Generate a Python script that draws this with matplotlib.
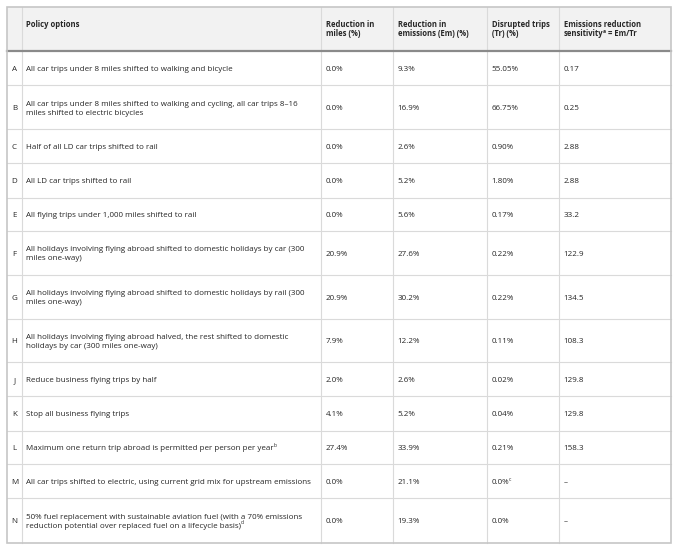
import re
import matplotlib
matplotlib.use('Agg')
import matplotlib.pyplot as plt
from matplotlib.patches import Rectangle

# ---------------- data ----------------
letters = ['A', 'B', 'C', 'D', 'E', 'F', 'G', 'H', 'J', 'K', 'L', 'M', 'N']
policies = [
    "All car trips under 8 miles shifted to walking and bicycle",
    "All car trips under 8 miles shifted to walking and cycling, all car trips 8–16\nmiles shifted to electric bicycles",
    "Half of all LD car trips shifted to rail",
    "All LD car trips shifted to rail",
    "All flying trips under 1,000 miles shifted to rail",
    "All holidays involving flying abroad shifted to domestic holidays by car (300\nmiles one-way)",
    "All holidays involving flying abroad shifted to domestic holidays by rail (300\nmiles one-way)",
    "All holidays involving flying abroad halved, the rest shifted to domestic\nholidays by car (300 miles one-way)",
    "Reduce business flying trips by half",
    "Stop all business flying trips",
    "Maximum one return trip abroad is permitted per person per year^b",
    "All car trips shifted to electric, using current grid mix for upstream emissions",
    "50% fuel replacement with sustainable aviation fuel (with a 70% emissions\nreduction potential over replaced fuel on a lifecycle basis)^d",
]
miles = ["0.0%", "0.0%", "0.0%", "0.0%", "0.0%", "20.9%", "20.9%", "7.9%",
         "2.0%", "4.1%", "27.4%", "0.0%", "0.0%"]
emissions = ["9.3%", "16.9%", "2.6%", "5.2%", "5.6%", "27.6%", "30.2%", "12.2%",
             "2.6%", "5.2%", "33.9%", "21.1%", "19.3%"]
disrupted = ["55.05%", "66.75%", "0.90%", "1.80%", "0.17%", "0.22%", "0.22%",
             "0.11%", "0.02%", "0.04%", "0.21%", "0.0%^c", "0.0%"]
sensitivity = ["0.17", "0.25", "2.88", "2.88", "33.2", "122.9", "134.5", "108.3",
               "129.8", "129.8", "158.3", "–", "–"]
headers = ["", "Policy options", "Reduction in\nmiles (%)",
           "Reduction in\nemissions (Em) (%)", "Disrupted trips\n(Tr) (%)",
           "Emissions reduction\nsensitivity^a = Em/Tr"]

# ---------------- layout (pixels) ----------------
W, H = 680, 548
col_edges = [7, 22, 321, 393, 487, 559, 671]
row_edges = [7, 50.5, 85, 129.3, 163.3, 197.7, 231, 275, 318.7, 362.3,
             396.3, 430.5, 464, 498, 542.5]
pad = 4.5
line_gap = 9.0
FAM = ['Open Sans', 'DejaVu Sans']
TXT = '#262626'

fig = plt.figure(figsize=(W / 100, H / 100), dpi=100)
ax = fig.add_axes([0, 0, 1, 1])
ax.set_xlim(0, W)
ax.set_ylim(H, 0)
ax.axis('off')
renderer = fig.canvas.get_renderer()

# fit font size so that a reference string has the reference width
probe = ax.text(0, 0, policies[0], fontsize=10, family=FAM)
w10 = probe.get_window_extent(renderer).width
probe.remove()
FS = 10 * 208.0 / w10
FSB = FS * 0.95
fs_px = FS * 100 / 72.0

# header background
ax.add_patch(Rectangle((col_edges[0], row_edges[0]), col_edges[-1] - col_edges[0],
                       row_edges[1] - row_edges[0], facecolor='#f2f2f2',
                       edgecolor='none', zorder=0))

# grid lines
for y in row_edges[2:-1]:
    ax.plot([col_edges[0], col_edges[-1]], [y, y], color='#dadada', lw=0.8, zorder=1)
for x in col_edges[1:-1]:
    ax.plot([x, x], [row_edges[0], row_edges[-1]], color='#dadada', lw=0.8, zorder=1)
ax.plot([col_edges[0], col_edges[-1]], [row_edges[1], row_edges[1]],
        color='#8a8a8a', lw=1.6, zorder=2)
ax.add_patch(Rectangle((col_edges[0], row_edges[0]), col_edges[-1] - col_edges[0],
                       row_edges[-1] - row_edges[0], facecolor='none',
                       edgecolor='#c6c6c6', lw=1.2, zorder=3))


def draw_line(x, yc, s, bold=False):
    parts = re.split(r'\^([a-d])', s)
    fs = FSB if bold else FS
    yb = yc + 0.36 * fs_px
    for i, p in enumerate(parts):
        if not p:
            continue
        if i % 2 == 0:
            t = ax.text(x, yb, p, fontsize=fs, family=FAM, color=TXT,
                        fontweight='bold' if bold else 'normal',
                        ha='left', va='baseline', zorder=5)
            x += t.get_window_extent(renderer).width
        else:
            t = ax.text(x - 0.4, yb - 0.40 * fs_px, p, fontsize=FS * 0.62,
                        family=FAM, color=TXT,
                        fontweight='bold' if bold else 'normal',
                        ha='left', va='baseline', zorder=5)
            x += t.get_window_extent(renderer).width - 0.2


def draw_cell(ci, ri, s, bold=False, top=False, center_x=False):
    x0, x1 = col_edges[ci], col_edges[ci + 1]
    y0, y1 = row_edges[ri], row_edges[ri + 1]
    lines = s.split('\n')
    n = len(lines)
    if top:
        ys = [24.5 + k * line_gap for k in range(n)]
    else:
        ym = (y0 + y1) / 2
        ys = [ym + (k - (n - 1) / 2) * line_gap for k in range(n)]
    for ln, y in zip(lines, ys):
        if center_x:
            ax.text((x0 + x1) / 2, y + 0.36 * fs_px, ln, fontsize=FS, family=FAM,
                    color=TXT, ha='center', va='baseline', zorder=5)
        else:
            draw_line(x0 + pad, y, ln, bold=bold)


for ci, h in enumerate(headers):
    if h:
        draw_cell(ci, 0, h, bold=True, top=True)

columns = [letters, policies, miles, emissions, disrupted, sensitivity]
for r in range(len(letters)):
    for ci, col in enumerate(columns):
        draw_cell(ci, r + 1, col[r], center_x=(ci == 0))

fig.savefig('out.png', dpi=100)
